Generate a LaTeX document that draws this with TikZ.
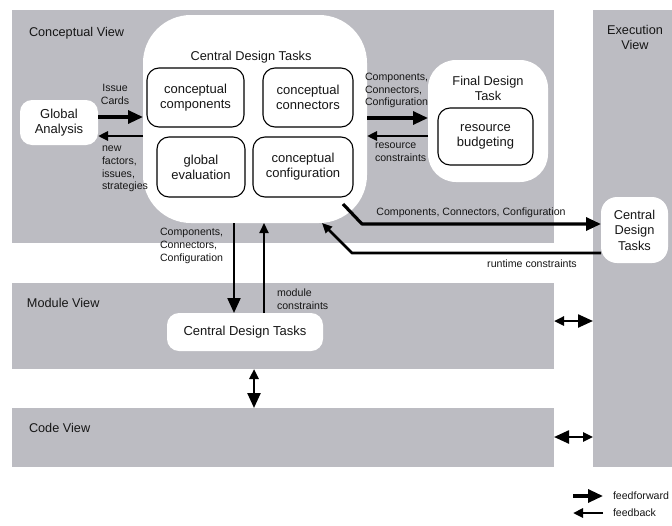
\documentclass[tikz,border=0pt]{standalone}
\usepackage{fontspec}
\setmainfont{Liberation Sans}
\usetikzlibrary{arrows.meta}
\definecolor{bandgray}{RGB}{188,188,194}
\definecolor{ink}{RGB}{22,22,22}

\begin{document}
\begin{tikzpicture}[x=1pt,y=-1pt,
  every node/.style={inner sep=0pt, outer sep=0pt, text=ink},
  band/.style={fill=bandgray, anchor=north west},
  blob/.style={fill=white, anchor=north west},
  task/.style={draw=black, line width=1.1pt, fill=white, rounded corners=12pt,
    anchor=north west, align=center, font=\fontsize{13}{15}\selectfont},
  viewlabel/.style={font=\fontsize{12.7}{15}\selectfont},
  title/.style={font=\fontsize{12.8}{15}\selectfont, align=center},
  lbl/.style={font=\fontsize{10.6}{12.8}\selectfont, align=left},
  ff/.style={draw=black, line width=3.2pt, -{Triangle[length=15pt,width=13pt]}},
  fb/.style={draw=black, line width=2.8pt, -{Triangle[length=10pt,width=9pt]}},
  thin/.style={line width=2.2pt},
  both/.style={draw=black, line width=2.4pt,
    {Triangle[length=10pt,width=9pt]}-{Triangle[length=15pt,width=13pt]}},
]
\useasboundingbox (0,0) rectangle (672,525);
\fill[white] (0,0) rectangle (672,525);

% view bands
\node[band, minimum width=542pt, minimum height=233pt] (cvband) at (12,10) {};
\node[band, minimum width=79pt, minimum height=457pt] (exband) at (593,10) {};
\node[band, minimum width=542pt, minimum height=86pt] (mvband) at (12,283) {};
\node[band, minimum width=542pt, minimum height=59pt] (cdband) at (12,408) {};

\node[viewlabel, anchor=west] (cvlabel) at (29,33) {Conceptual View};
\node[viewlabel, align=center] (exlabel) at (635,37.5) {Execution\\View};
\node[viewlabel, anchor=west] (mvlabel) at (27,303) {Module View};
\node[viewlabel, anchor=west] (cdlabel) at (29,428) {Code View};

% conceptual view: central design tasks
\node[blob, rounded corners=48pt, minimum width=224pt, minimum height=208pt] (cdt) at (143,15) {};
\node[title] (cdttitle) at (251,57) {Central Design Tasks};
\node[task, minimum width=97pt, minimum height=59pt] (cc) at (147,68) {conceptual\\components};
\node[task, minimum width=90pt, minimum height=59pt] (cn) at (263,68) {conceptual\\connectors};
\node[task, minimum width=88pt, minimum height=60pt] (ge) at (157,137) {global\\evaluation};
\node[task, minimum width=100pt, minimum height=60pt] (cf) at (253,137) {conceptual\\configuration};

% global analysis
\node[blob, rounded corners=12pt, minimum width=78pt, minimum height=45pt,
  align=center, font=\fontsize{13}{15}\selectfont] (ga) at (20,100) {Global\\Analysis};

% final design task
\node[blob, rounded corners=28pt, minimum width=120pt, minimum height=122pt] (fd) at (428,60) {};
\node[title] (fdtitle) at (488,88.5) {Final Design\\Task};
\node[task, minimum width=95pt, minimum height=57pt] (rb) at (438,108) {resource\\budgeting};

% execution view: central design tasks
\node[blob, rounded corners=16pt, minimum width=67pt, minimum height=66pt,
  align=center, font=\fontsize{12.8}{15.5}\selectfont] (exe) at (601,197) {Central\\Design\\Tasks};

% module view: central design tasks
\node[blob, rounded corners=12pt, minimum width=156pt, minimum height=38pt,
  font=\fontsize{13}{15}\selectfont] (mod) at (167,313) {Central Design Tasks};

% global analysis <-> central design tasks
\draw[ff] (ga.east |- 0,117) -- (cdt.west |- 0,117);
\draw[fb] (cdt.west |- 0,136) -- (ga.east |- 0,136);
\node[lbl, align=center] (issuelbl) at (115,94.5) {Issue\\Cards};
\node[lbl, anchor=west] (newlbl) at (102,169) {new\\factors,\\issues,\\strategies};

% central design tasks <-> final design task
\draw[ff] (cdt.east |- 0,118) -- (fd.west |- 0,118);
\draw[fb] (fd.west |- 0,136) -- (cdt.east |- 0,136);
\node[lbl, anchor=west] (fdfwd) at (365,90.5) {Components,\\Connectors,\\Configuration};
\node[lbl, anchor=west] (fdback) at (375,152) {resource\\constraints};

% conceptual view <-> execution view
\coordinate (cdtout) at (343,204);
\coordinate (cdtin) at (322,223);
\draw[ff, line join=round] (cdtout) -- (362,224) -- (exe.west |- 0,224);
\draw[fb, line join=round] (exe.west |- 0,253) -- (352,253) -- (cdtin);
\node[lbl] (exfwd) at (471,213) {Components, Connectors, Configuration};
\node[lbl] (exback) at (532,264) {runtime constraints};

% conceptual view <-> module view
\coordinate (dn) at ([xshift=-11pt]mod.north);
\coordinate (up) at ([xshift=19pt]mod.north);
\draw[ff, thin] (dn |- cdt.south) -- (dn);
\draw[fb, thin] (up) -- (up |- cdt.south);
\node[lbl, anchor=west] (mvfwd) at (160,246) {Components,\\Connectors,\\Configuration};
\node[lbl, anchor=west] (mvback) at (277,299) {module\\constraints};

% module view <-> code view, and both <-> execution view
\coordinate (mc) at (254,0);
\draw[both] (mc |- mvband.south) -- (mc |- cdband.north);
\coordinate (me) at (0,321);
\draw[both] (mvband.east |- me) -- (exband.west |- me);
\coordinate (ce) at (0,437);
\draw[both] (exband.west |- ce) -- (cdband.east |- ce);

% legend
\coordinate (lf1) at (573,496);
\coordinate (lf2) at (603,496);
\coordinate (lb1) at (573,513);
\coordinate (lb2) at (603,513);
\draw[ff] (lf1) -- (lf2);
\draw[fb] (lb2) -- (lb1);
\node[lbl, anchor=west] (lfwd) at (613,496) {feedforward};
\node[lbl, anchor=west] (lback) at (613,513) {feedback};
\end{tikzpicture}
\end{document}
